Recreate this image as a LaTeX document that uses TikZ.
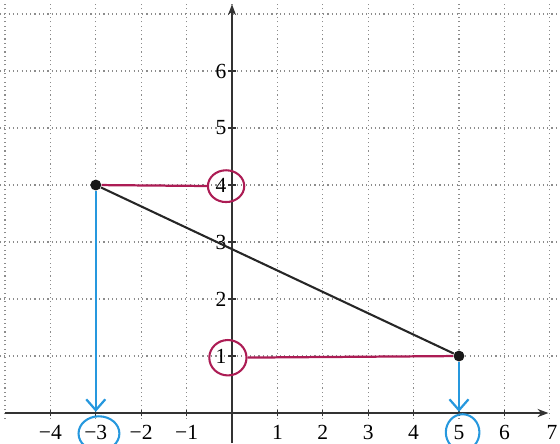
\documentclass[tikz,border=0pt]{standalone}
\usepackage{fontspec}
\setmainfont{Liberation Serif}
\usetikzlibrary{arrows.meta,shapes.geometric}
\definecolor{pinkred}{RGB}{172,28,84}
\definecolor{skyblue}{RGB}{38,152,222}
\begin{document}
\begin{tikzpicture}[x=1cm,y=1.2555cm,
  lab/.style={font=\fontsize{13.5}{15}\selectfont, inner sep=1pt},
  dot/.style={circle,fill=black!90,inner sep=0pt,minimum size=0.24cm},
  gridline/.style={black!45, dotted, line width=0.7pt},
  axisline/.style={black!80, line width=0.7pt, -{Stealth[length=2.4mm,width=1.8mm]}},
  tick/.style={black!80, line width=0.7pt},
  seg/.style={black!85, line width=1.3pt},
  hl/.style={pinkred, line width=1.4pt},
  bl/.style={skyblue, line width=1.4pt, -{Straight Barb[length=2.4mm,width=4.2mm]}},
  ring/.style={ellipse, draw, line width=1.3pt, inner sep=0pt},
  pring/.style={ring, draw=pinkred},
  bring/.style={ring, draw=skyblue}]
\useasboundingbox (-5.110,-0.526) rectangle (7.225,7.246);
% grid
\foreach \y in {1,...,7} \draw[gridline] (-5.11,\y) -- (7.2,\y);
\foreach \x in {-5,...,7} \draw[gridline] (\x,-0.1) -- (\x,7.2);
% axes
\coordinate (xl) at (-5.0,0);
\coordinate (xr) at (6.97,0);
\coordinate (yb) at (0,-0.53);
\coordinate (yt) at (0,7.17);
\draw[axisline] (xl) -- (xr);
\draw[axisline] (yb) -- (yt);
\foreach \x in {-4,...,6} \draw[tick] (\x,-0.06) -- (\x,0.06);
\foreach \y in {1,...,6} \draw[tick] (-0.08,\y) -- (0.08,\y);
% x labels
\node[lab] (xm4) at (-4,-0.34) {−4};
\node[lab] (xm3) at (-3,-0.34) {−3};
\node[lab] (xm2) at (-2,-0.34) {−2};
\node[lab] (xm1) at (-1,-0.34) {−1};
\node[lab] (x1) at (1,-0.34) {1};
\node[lab] (x2) at (2,-0.34) {2};
\node[lab] (x3) at (3,-0.34) {3};
\node[lab] (x4) at (4,-0.34) {4};
\node[lab] (x5) at (5,-0.34) {5};
\node[lab] (x6) at (6,-0.34) {6};
\node[lab] (x7) at (7.05,-0.34) {7};
% y labels
\node[lab] (y1) at (-0.24,1) {1};
\node[lab] (y2) at (-0.24,2) {2};
\node[lab] (y3) at (-0.24,3) {3};
\node[lab] (y4) at (-0.24,4) {4};
\node[lab] (y5) at (-0.24,5) {5};
\node[lab] (y6) at (-0.24,6) {6};
% points and segment
\node[dot] (A) at (-3,4) {};
\node[dot] (B) at (5,1) {};
\draw[seg] (A) -- (B);
% pink rings and lines
\node[pring, minimum width=0.80cm, minimum height=0.70cm] (r4) at (-0.13,3.98) {};
\node[pring, minimum width=0.82cm, minimum height=0.78cm] (r1) at (-0.09,0.97) {};
\draw[hl] (A) -- (r4);
\draw[hl] (B) -- (r1);
% blue arrows and rings
\coordinate (A0) at (-3,0.02);
\coordinate (B0) at (5,0.02);
\draw[bl] (A) -- (A0);
\draw[bl] (B) -- (B0);
\node[bring, minimum width=0.90cm, minimum height=0.76cm] (rm3) at (-2.93,-0.36) {};
\node[bring, minimum width=0.74cm, minimum height=0.80cm] (r5) at (5.08,-0.34) {};
\end{tikzpicture}
\end{document}
